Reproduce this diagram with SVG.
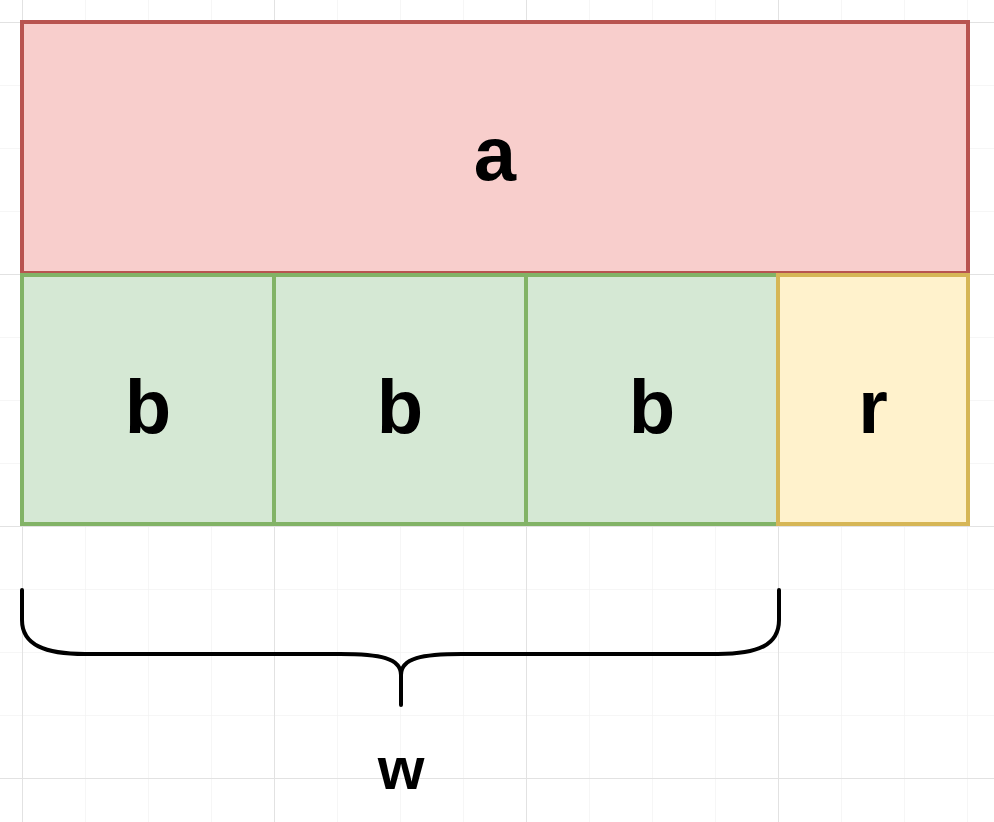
<svg xmlns="http://www.w3.org/2000/svg" width="994" height="822" viewBox="0 0 994 822">
<defs>
<pattern id="minor" x="22" y="22" width="63" height="63" patternUnits="userSpaceOnUse"><path d="M0 0V63M0 0H63" stroke="#f3f3f3" stroke-width="1.5" fill="none"/></pattern>
<pattern id="major" x="22" y="22" width="252" height="252" patternUnits="userSpaceOnUse"><path d="M0 0V252M0 0H252" stroke="#e2e2e2" stroke-width="2" fill="none"/></pattern>
</defs>
<style>
.t{font-family:"Liberation Sans",Arial,sans-serif;font-weight:bold;fill:#000;text-anchor:middle}
.big{font-size:76px}
.red{fill:#f8cecc;stroke:#b85450;stroke-width:4}
.grn{fill:#d5e8d4;stroke:#82b366;stroke-width:4}
.yel{fill:#fff2cc;stroke:#d6b656;stroke-width:4}
</style>
<rect width="994" height="822" fill="#fff"/>
<rect width="994" height="822" fill="url(#minor)"/>
<rect width="994" height="822" fill="url(#major)"/>
<g id="a"><rect class="red" x="22" y="22" width="946" height="251"/><text class="t big" x="495" y="180">a</text></g>
<g id="b1"><rect class="grn" x="22" y="275" width="252" height="249"/><text class="t big" x="148" y="433">b</text></g>
<g id="b2"><rect class="grn" x="274" y="275" width="252" height="249"/><text class="t big" x="400" y="433">b</text></g>
<g id="b3"><rect class="grn" x="526" y="275" width="252" height="249"/><text class="t big" x="652" y="433">b</text></g>
<g id="r"><rect class="yel" x="778" y="275" width="190" height="249"/><text class="t big" x="873" y="433">r</text></g>
<g id="connectors">
<path d="M22 590V620C22 645 45 654 85 654H340C380 654 401 658 401 675V705M401 675C401 658 422 654 462 654H718C758 654 779 645 779 620V590" fill="none" stroke="#000" stroke-width="4" stroke-linecap="round"/>
</g>
<g id="w"><text class="t" x="401" y="789" font-size="60">w</text></g>
</svg>
